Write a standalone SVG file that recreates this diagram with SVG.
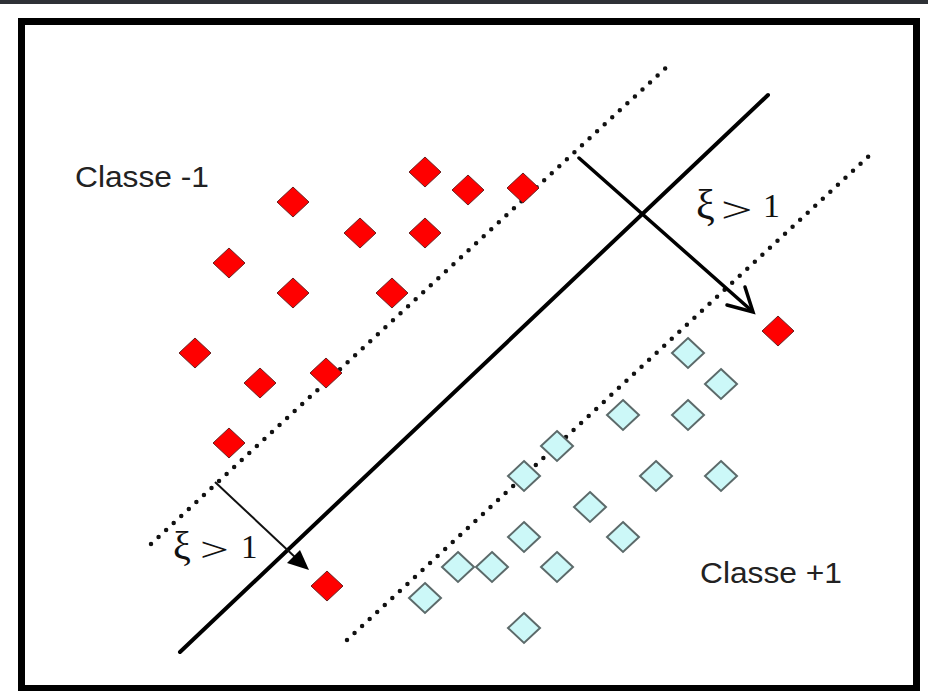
<svg xmlns="http://www.w3.org/2000/svg" xmlns:xlink="http://www.w3.org/1999/xlink" width="928" height="691" viewBox="0 0 928 691">
<style>
.dot{fill:none;stroke:#111;stroke-width:4.5;stroke-linecap:round;stroke-dasharray:0 10.3}
.solid{fill:none;stroke:#000;stroke-width:4;stroke-linecap:round}
.lbl{font-family:"Liberation Sans",Arial,sans-serif;font-size:30px;fill:#222}
.xi{font-family:"Liberation Serif","Times New Roman",serif;fill:#111}
</style>
<defs>
<polygon id="rd" points="0,-15 16,0 0,15 -16,0" fill="#ff0000" stroke="#6a2020" stroke-width="1"/>
<polygon id="cd" points="0,-15 16,0 0,15 -16,0" fill="#ccf8f8" stroke="#5c6a6a" stroke-width="2"/>
</defs>
<rect x="0" y="0" width="928" height="691" fill="#fff"/>
<rect x="0" y="0" width="928" height="4" fill="#2e3136"/>
<rect x="21.5" y="21.5" width="895" height="667" fill="#fff" stroke="#000" stroke-width="7"/>
<g id="connectors">
<line class="dot" x1="151" y1="544" x2="671" y2="63"/>
<line class="dot" x1="347" y1="640" x2="870" y2="155"/>
<line class="solid" x1="180" y1="652" x2="768" y2="95"/>
<line x1="579" y1="158" x2="752" y2="311" stroke="#000" stroke-width="3.5" stroke-linecap="round"/>
<polyline points="727,305 753,312 745,287" fill="none" stroke="#000" stroke-width="3.5" stroke-linecap="round" stroke-linejoin="miter"/>
<line x1="215" y1="482" x2="296" y2="558" stroke="#111" stroke-width="2"/>
<polygon points="309,570 287,563 300,550" fill="#000"/>
</g>
<g id="class-minus">
<use xlink:href="#rd" x="425" y="172"/>
<use xlink:href="#rd" x="468" y="190"/>
<use xlink:href="#rd" x="523" y="188"/>
<use xlink:href="#rd" x="293" y="202"/>
<use xlink:href="#rd" x="360" y="233"/>
<use xlink:href="#rd" x="425" y="233"/>
<use xlink:href="#rd" x="229" y="263"/>
<use xlink:href="#rd" x="293" y="293"/>
<use xlink:href="#rd" x="392" y="293"/>
<use xlink:href="#rd" x="195" y="353"/>
<use xlink:href="#rd" x="260" y="383"/>
<use xlink:href="#rd" x="326" y="373"/>
<use xlink:href="#rd" x="229" y="443"/>
<use xlink:href="#rd" x="327" y="586"/>
<use xlink:href="#rd" x="778" y="331"/>
</g>
<g id="class-plus">
<use xlink:href="#cd" x="688" y="353"/>
<use xlink:href="#cd" x="721" y="384"/>
<use xlink:href="#cd" x="623" y="415"/>
<use xlink:href="#cd" x="688" y="415"/>
<use xlink:href="#cd" x="557" y="446"/>
<use xlink:href="#cd" x="524" y="476"/>
<use xlink:href="#cd" x="656" y="476"/>
<use xlink:href="#cd" x="721" y="476"/>
<use xlink:href="#cd" x="590" y="507"/>
<use xlink:href="#cd" x="524" y="537"/>
<use xlink:href="#cd" x="623" y="537"/>
<use xlink:href="#cd" x="458" y="567"/>
<use xlink:href="#cd" x="492" y="567"/>
<use xlink:href="#cd" x="557" y="567"/>
<use xlink:href="#cd" x="425" y="598"/>
<use xlink:href="#cd" x="524" y="628"/>
</g>
<g id="labels">
<text class="lbl" x="75" y="187" textLength="134" lengthAdjust="spacingAndGlyphs">Classe -1</text>
<text class="lbl" x="700" y="583" textLength="142" lengthAdjust="spacingAndGlyphs">Classe +1</text>
<text class="xi" font-size="42" x="696" y="219">ξ</text>
<text class="xi" font-size="36" transform="translate(721,222) scale(1.55,1)">&gt;</text>
<text class="xi" font-size="34" x="763" y="217">1</text>
<text class="xi" font-size="40" x="173" y="559">ξ</text>
<text class="xi" font-size="34" transform="translate(200,561) scale(1.5,1)">&gt;</text>
<text class="xi" font-size="33" x="241" y="558">1</text>
</g>
</svg>
